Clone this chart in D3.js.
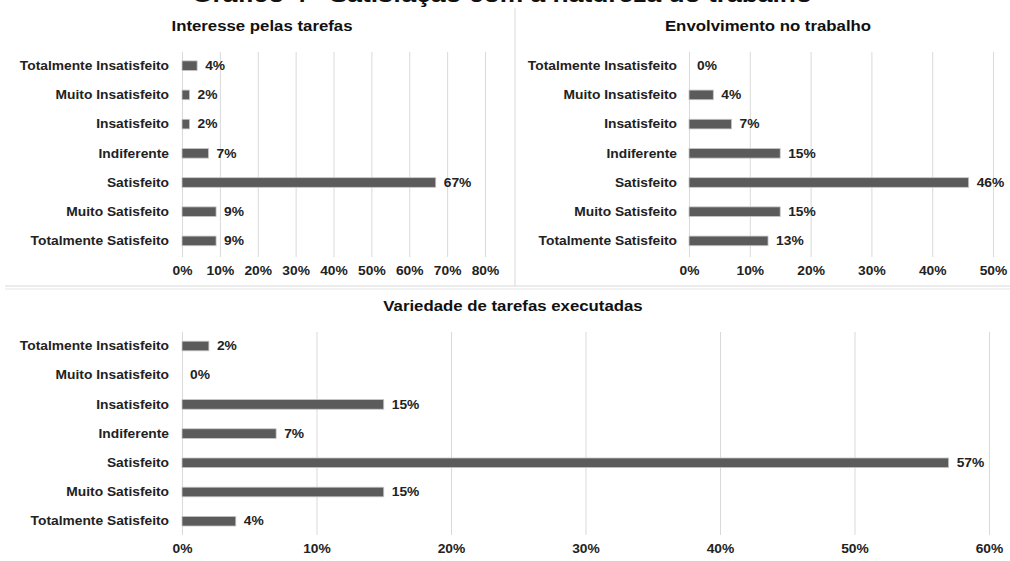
<!DOCTYPE html>
<html>
<head>
<meta charset="UTF-8">
<title>Satisfação com a natureza do trabalho</title>
<script src="https://d3js.org/d3.v7.min.js"></script>
<style>
  body { margin: 0; background: #fff; }
  svg { display: block; font-family: "Liberation Sans", Arial, sans-serif; }
  .tick line { stroke: #d9d9d9; }
  .tick text { font-size: 12px; font-weight: bold; fill: #222; }
</style>
</head>
<body>
<svg width="1010" height="561"></svg>
<script>
const categories = ["Totalmente Insatisfeito", "Muito Insatisfeito", "Insatisfeito", "Indiferente",
                    "Satisfeito", "Muito Satisfeito", "Totalmente Satisfeito"];
const interesse = [4, 2, 2, 7, 67, 9, 9];
const envolvimento = [0, 4, 7, 15, 46, 15, 13];
const variedade = [2, 0, 15, 7, 57, 15, 4];
const ticksInteresse = [0, 10, 20, 30, 40, 50, 60, 70, 80];
const ticksEnvolvimento = [0, 10, 20, 30, 40, 50];
const ticksVariedade = [0, 10, 20, 30, 40, 50, 60];

const svg = d3.select("svg");
const sx = 1.15; // the source text is a bit wide

// main title, mostly cut off at the top edge
svg.append("text")
  .attr("transform", "translate(502,1.5) scale(1.2,1)")
  .attr("text-anchor", "middle")
  .style("font-size", "22px").style("font-weight", "bold").style("fill", "#111")
  .text("Gráfico 4 - Satisfação com a natureza do trabalho");

// separators
svg.append("line").attr("x1", 515).attr("x2", 515).attr("y1", 8).attr("y2", 286)
  .attr("stroke", "#d9d9d9");
svg.append("line").attr("x1", 5).attr("x2", 1010).attr("y1", 286).attr("y2", 286)
  .attr("stroke", "#d9d9d9");
svg.append("line").attr("x1", 5).attr("x2", 1010).attr("y1", 289).attr("y2", 289)
  .attr("stroke", "#e6e6e6");

function drawPanel(cfg) {
  const g = svg.append("g");
  const x = d3.scaleLinear().domain([0, d3.max(cfg.ticks)]).range([cfg.x0, cfg.x1]);
  const y = d3.scaleBand().domain(categories).range([cfg.y0, cfg.y1])
    .paddingInner(0.67).paddingOuter(0.335);

  g.append("text")
    .attr("transform", "translate(" + cfg.titleX + "," + cfg.titleY + ") scale(1.2,1)")
    .attr("text-anchor", "middle")
    .style("font-size", "14px").style("font-weight", "bold").style("fill", "#111")
    .text(cfg.title);

  const axis = g.append("g")
    .attr("transform", "translate(0," + cfg.gridBottom + ")")
    .call(d3.axisBottom(x).tickValues(cfg.ticks).tickFormat(d => d + "%")
      .tickSize(-(cfg.gridBottom - cfg.gridTop)).tickPadding(9));
  axis.select(".domain").remove();
  axis.selectAll(".tick text").attr("transform", "scale(" + sx + ",1)");

  g.selectAll("rect.bar")
    .data(cfg.values)
    .enter().append("rect")
    .attr("class", "bar")
    .attr("x", x(0))
    .attr("y", (d, i) => y(categories[i]))
    .attr("width", d => x(d) - x(0))
    .attr("height", y.bandwidth())
    .attr("fill", "#5b5b5b")
    .attr("stroke", d => d > 0 ? "#c8c8c8" : "none")
    .attr("stroke-width", 0.8);

  g.selectAll("text.val")
    .data(cfg.values)
    .enter().append("text")
    .attr("class", "val")
    .attr("transform", (d, i) => "translate(" + (x(d) + 8) + "," +
      (y(categories[i]) + y.bandwidth() / 2) + ") scale(" + sx + ",1)")
    .attr("dy", "0.35em")
    .style("font-size", "12px").style("font-weight", "bold").style("fill", "#222")
    .text(d => d + "%");

  g.selectAll("text.cat")
    .data(categories)
    .enter().append("text")
    .attr("class", "cat")
    .attr("transform", d => "translate(" + cfg.labelX + "," +
      (y(d) + y.bandwidth() / 2) + ") scale(" + sx + ",1)")
    .attr("dy", "0.35em")
    .attr("text-anchor", "end")
    .style("font-size", "12px").style("font-weight", "bold").style("fill", "#222")
    .text(d => d);
}

drawPanel({
  title: "Interesse pelas tarefas", titleX: 262, titleY: 31,
  values: interesse, ticks: ticksInteresse,
  x0: 182, x1: 485, y0: 51.1, y1: 255.5, gridTop: 52, gridBottom: 257, labelX: 169
});

drawPanel({
  title: "Envolvimento no trabalho", titleX: 768, titleY: 31,
  values: envolvimento, ticks: ticksEnvolvimento,
  x0: 689, x1: 993, y0: 51.1, y1: 255.5, gridTop: 52, gridBottom: 257, labelX: 677
});

drawPanel({
  title: "Variedade de tarefas executadas", titleX: 513, titleY: 311,
  values: variedade, ticks: ticksVariedade,
  x0: 182, x1: 989, y0: 331.4, y1: 535.8, gridTop: 332, gridBottom: 535, labelX: 169
});
</script>
</body>
</html>
